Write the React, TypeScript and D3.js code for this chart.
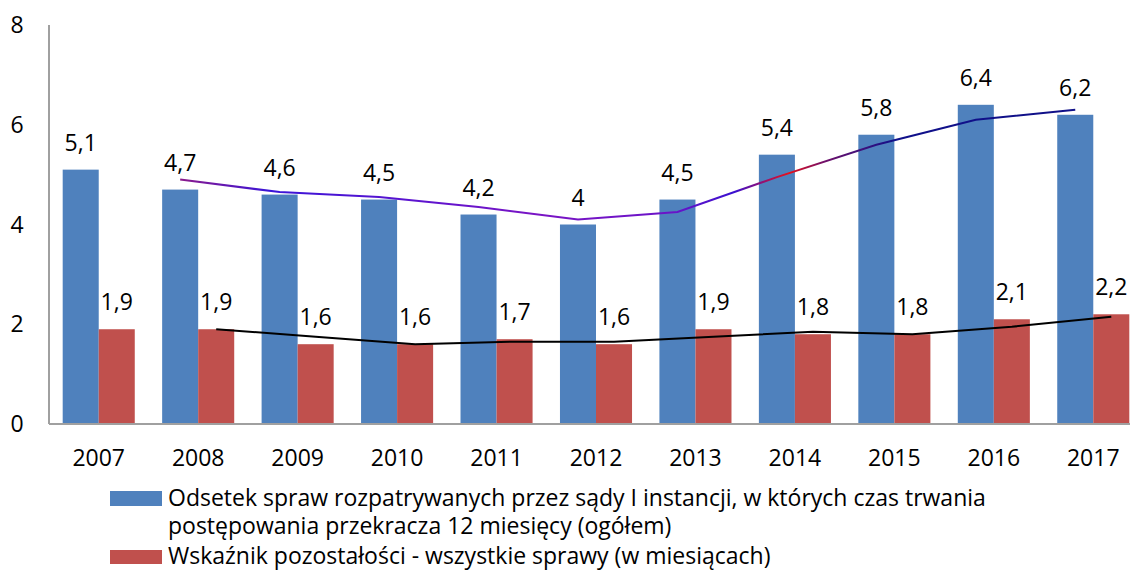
import React, { useEffect, useRef } from 'react'
import * as d3 from 'd3'

const years = ['2007', '2008', '2009', '2010', '2011', '2012', '2013', '2014', '2015', '2016', '2017']
const odsetek = [5.1, 4.7, 4.6, 4.5, 4.2, 4.0, 4.5, 5.4, 5.8, 6.4, 6.2]
const wskaznik = [1.9, 1.9, 1.6, 1.6, 1.7, 1.6, 1.9, 1.8, 1.8, 2.1, 2.2]
// trend lines (2-period moving average as drawn), from 2008 on
const odsetekTrend = [4.9, 4.65, 4.55, 4.35, 4.1, 4.25, 4.95, 5.6, 6.1, 6.3]
const wskaznikTrend = [1.9, 1.75, 1.6, 1.65, 1.65, 1.75, 1.85, 1.8, 1.95, 2.15]
const yTicks = [0, 2, 4, 6, 8]
const legendBlue = ['Odsetek spraw rozpatrywanych przez sądy I instancji, w których czas trwania', 'postępowania przekracza 12 miesięcy (ogółem)']
const legendRed = 'Wskaźnik pozostałości - wszystkie sprawy (w miesiącach)'

const BLUE = '#4F81BD'
const RED = '#C0504D'
const FONT = '"Open Sans", Lato, sans-serif'

const fmt = (v: number) => String(v).replace('.', ',')

const App = () => {
  const ref = useRef<SVGSVGElement>(null)

  useEffect(() => {
    const svg = d3.select(ref.current)
    svg.selectAll('*').remove()

    const left = 49, right = 1143, top = 25, bottom = 424
    const x = d3.scaleBand().domain(years).range([left, right]).padding(0)
    const sub = d3.scaleBand().domain(['a', 'b']).range([0, x.bandwidth()]).paddingInner(0).paddingOuter(0.38)
    const y = d3.scaleLinear().domain([0, 8]).range([bottom, top])

    const defs = svg.append('defs')
    const grad = defs.append('linearGradient')
      .attr('id', 'trendGrad').attr('gradientUnits', 'userSpaceOnUse')
      .attr('x1', 180).attr('y1', 0).attr('x2', 1075).attr('y2', 0)
    const stops: [number, string][] = [
      [0, '#8B1A8B'], [0.1, '#3A14D8'], [0.25, '#5A14D0'], [0.4, '#7A14C4'],
      [0.55, '#6A14C8'], [0.62, '#3A10D0'], [0.68, '#E8101A'], [0.72, '#70106A'],
      [0.8, '#10108A'], [1, '#101088']
    ]
    stops.forEach(([o, c]) => grad.append('stop').attr('offset', o).attr('stop-color', c))

    // bars
    const g = svg.append('g')
    years.forEach((yr, i) => {
      const x0 = x(yr)!
      g.append('rect').attr('x', x0 + sub('a')!).attr('y', y(odsetek[i]))
        .attr('width', sub.bandwidth()).attr('height', y(0) - y(odsetek[i])).attr('fill', BLUE)
      g.append('rect').attr('x', x0 + sub('b')!).attr('y', y(wskaznik[i]))
        .attr('width', sub.bandwidth()).attr('height', y(0) - y(wskaznik[i])).attr('fill', RED)
    })

    // axes
    svg.append('line').attr('x1', left).attr('x2', left).attr('y1', top).attr('y2', bottom)
      .attr('stroke', '#A0A0A0').attr('stroke-width', 2)
    svg.append('line').attr('x1', left).attr('x2', right).attr('y1', bottom).attr('y2', bottom)
      .attr('stroke', '#A0A0A0').attr('stroke-width', 2)

    svg.append('g').selectAll('text').data(yTicks).join('text')
      .attr('x', 17).attr('y', d => y(d) + 8).attr('text-anchor', 'middle')
      .attr('font-size', 23).attr('font-family', FONT).text(d => d)

    svg.append('g').selectAll('text').data(years).join('text')
      .attr('x', d => x(d)! + x.bandwidth() / 2).attr('y', 466).attr('text-anchor', 'middle')
      .attr('font-size', 23).attr('font-family', FONT).text(d => d)

    // trend lines
    const trendYears = years.slice(1)
    const line = d3.line<number>()
    svg.append('path')
      .attr('d', line.x((_, i) => x(trendYears[i])! + sub('a')! + sub.bandwidth() / 2).y(d => y(d))(odsetekTrend))
      .attr('fill', 'none').attr('stroke', 'url(#trendGrad)').attr('stroke-width', 2)
    svg.append('path')
      .attr('d', d3.line<number>().x((_, i) => x(trendYears[i])! + sub('b')! + sub.bandwidth() / 2).y(d => y(d))(wskaznikTrend))
      .attr('fill', 'none').attr('stroke', '#000').attr('stroke-width', 2)

    // value labels
    years.forEach((yr, i) => {
      const x0 = x(yr)!
      svg.append('text').attr('x', x0 + sub('a')! + sub.bandwidth() / 2).attr('y', y(odsetek[i]) - 19)
        .attr('text-anchor', 'middle').attr('font-size', 23).attr('font-family', FONT).text(fmt(odsetek[i]))
      svg.append('text').attr('x', x0 + sub('b')! + sub.bandwidth() / 2).attr('y', y(wskaznik[i]) - 19)
        .attr('text-anchor', 'middle').attr('font-size', 23).attr('font-family', FONT).text(fmt(wskaznik[i]))
    })

    // legend
    const lg = svg.append('g')
    lg.append('rect').attr('x', 110).attr('y', 491).attr('width', 52).attr('height', 15).attr('fill', BLUE)
    legendBlue.forEach((t, i) => {
      lg.append('text').attr('x', 168).attr('y', 506 + i * 28).attr('font-size', 23)
        .attr('font-family', FONT).text(t)
    })
    lg.append('rect').attr('x', 110).attr('y', 550).attr('width', 52).attr('height', 14).attr('fill', RED)
    lg.append('text').attr('x', 168).attr('y', 564).attr('font-size', 23)
      .attr('font-family', FONT).text(legendRed)
  }, [])

  return (
    <svg ref={ref} width={1130} height={570} style={{ position: 'absolute', left: 0, top: 0 }} />
  )
}

export default App
